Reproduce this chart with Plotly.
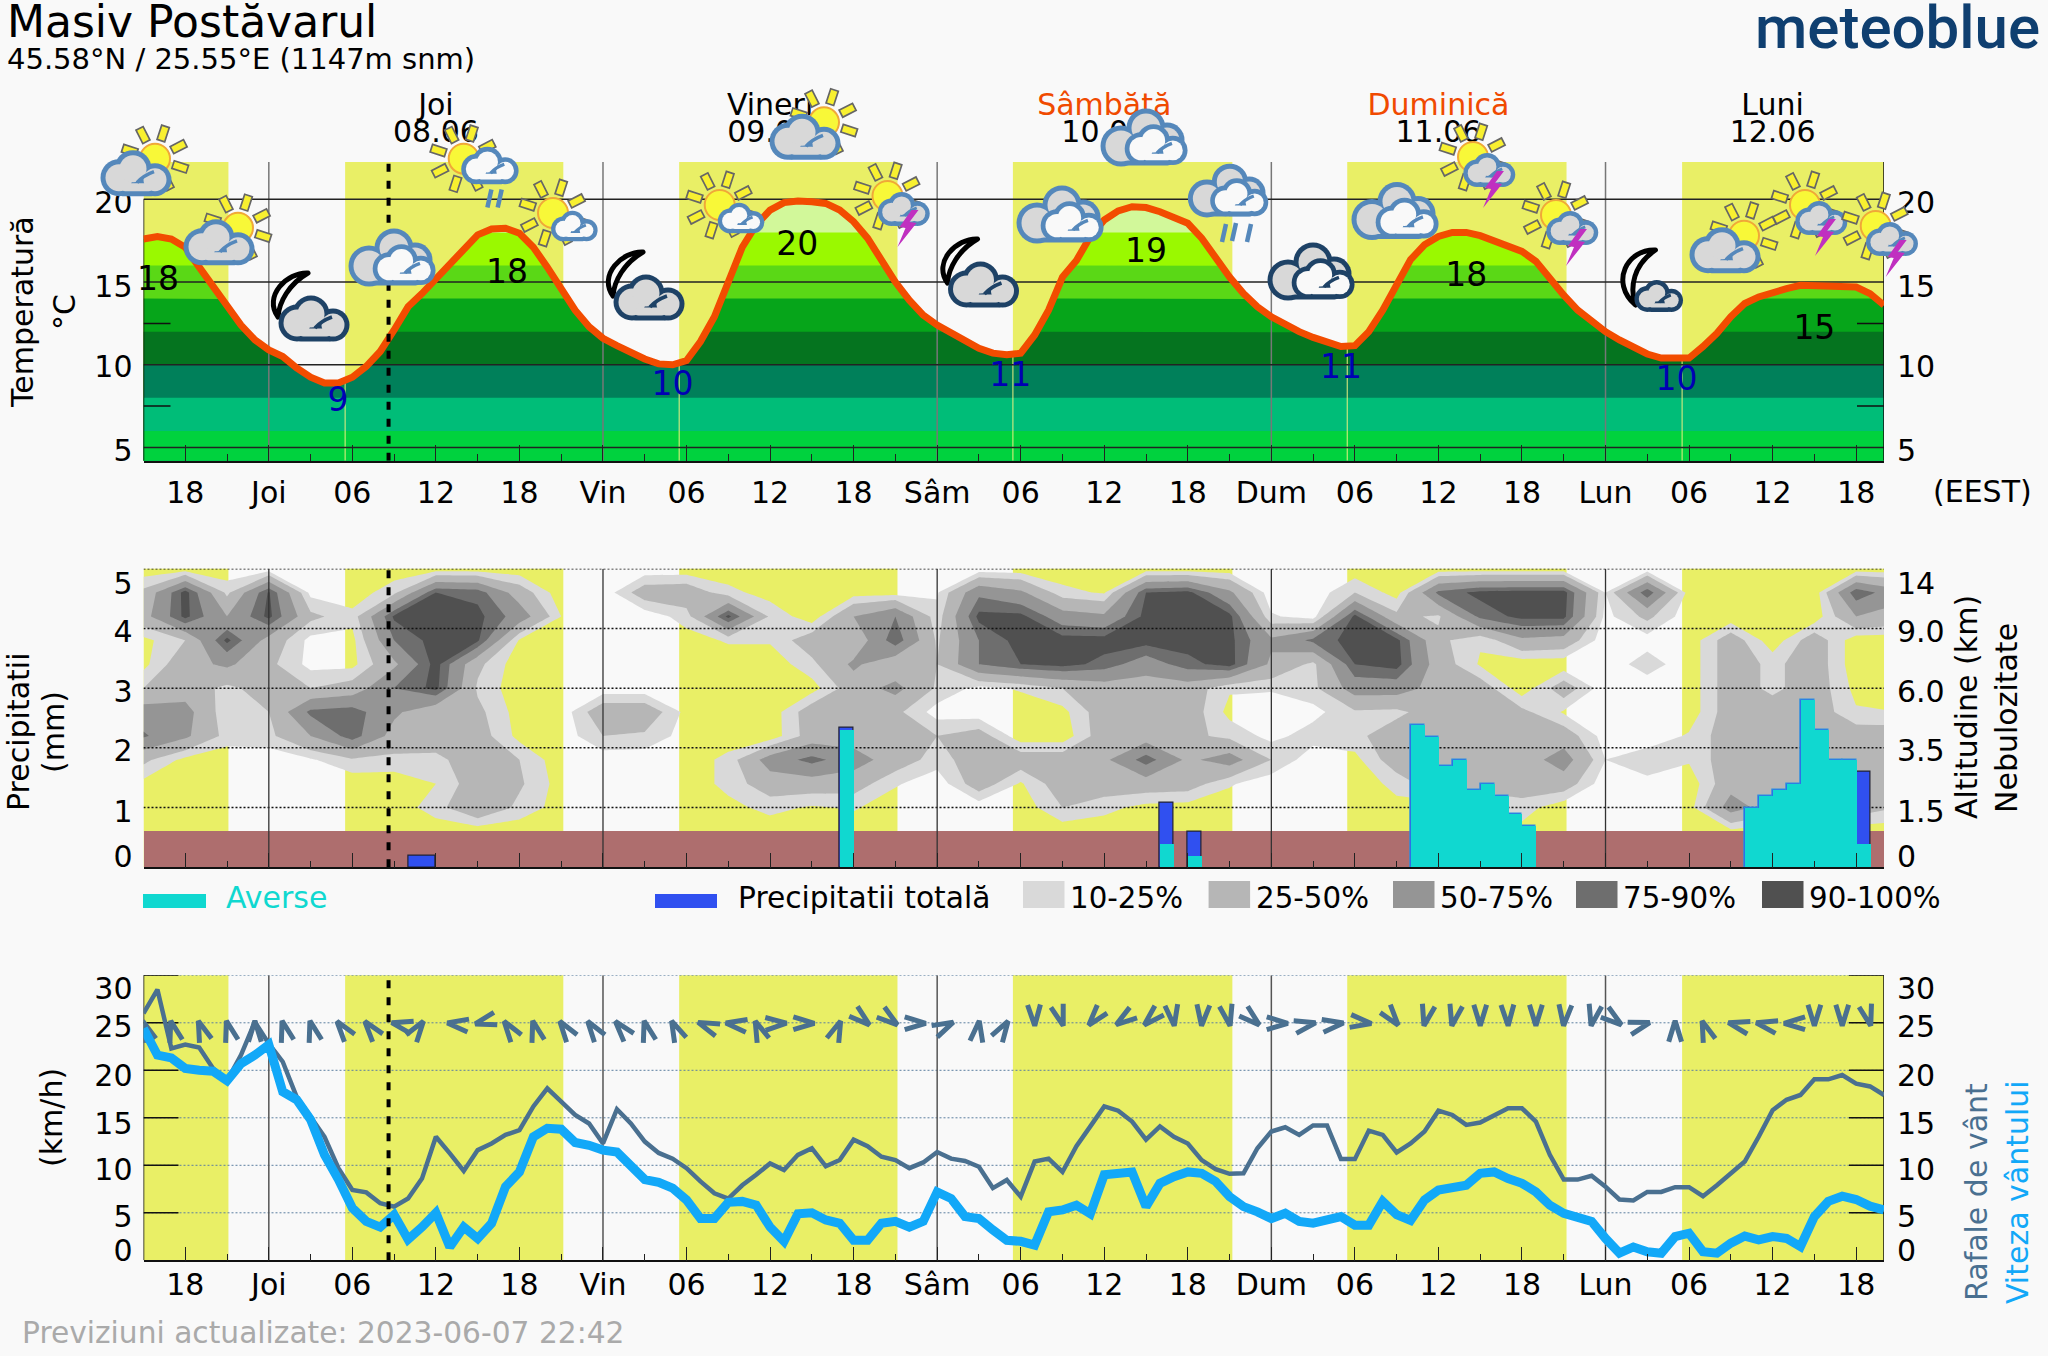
import base64
import numpy as np
import plotly.graph_objects as go

# ---------- data ----------
hours = list(range(-9, 117))   # hours relative to Thursday 00:00 (EEST)
temperature = [17.6,17.75,17.6,17.1,15.9,14.7,13.5,12.4,11.5,10.9,10.5,9.8,9.25,8.9,8.9,9.25,9.9,10.8,12.1,13.5,14.3,
 15.2,16.2,17.1,17.85,18.2,18.25,17.95,17.1,15.9,14.5,13.3,12.3,11.6,11.15,10.7,10.35,10.05,10.0,10.25,11.4,12.9,
 15.1,17.1,18.45,19.35,19.8,19.9,19.85,19.75,19.35,18.65,17.65,16.35,15.0,13.9,13.0,12.4,11.9,11.4,11.0,10.7,10.6,
 10.7,11.8,13.3,15.3,16.3,17.75,18.75,19.3,19.55,19.5,19.25,18.95,18.55,17.65,16.45,15.3,14.3,13.5,12.9,12.4,12.0,
 11.65,11.35,11.1,11.15,12.0,13.3,14.9,16.35,17.25,17.75,18.0,18.0,17.8,17.45,17.15,16.85,16.25,15.2,14.2,13.3,12.6,
 12.0,11.5,11.05,10.65,10.4,10.35,10.4,11.1,11.9,12.9,13.7,14.1,14.4,14.6,14.8,14.8,14.8,14.8,14.7,14.3,13.6]
wind_speed = [24.4,21.6,21.3,20.2,20.0,19.9,18.9,20.7,21.6,22.7,17.75,16.9,14.8,11.1,8.5,5.5,4.1,3.5,4.8,2.2,3.5,5.0,
 1.4,3.5,2.3,3.9,7.75,9.3,13.0,13.9,13.8,12.4,12.1,11.6,11.4,9.9,8.5,8.2,7.6,6.35,4.4,4.4,6.1,6.2,5.8,3.5,2.0,4.9,
 5.0,4.25,3.9,2.1,2.1,3.9,4.1,3.5,4.1,7.2,6.5,4.6,4.4,3.2,2.1,2.0,1.6,5.1,5.3,5.8,4.9,9.0,9.05,9.3,5.65,8.1,8.8,9.3,
 9.15,8.3,6.7,5.65,5.1,4.4,4.95,4.1,3.9,4.25,4.6,3.7,3.7,6.2,4.8,4.2,6.35,7.4,7.6,7.9,9.15,9.3,8.6,8.1,7.2,5.8,4.95,
 4.5,4.1,2.3,0.75,1.4,0.9,0.75,2.5,2.85,0.9,0.75,1.8,2.55,2.15,2.5,2.3,1.45,4.6,6.2,6.75,6.4,5.7,5.3]
wind_gust = [26.0,28.5,22.3,22.7,22.4,20.2,18.9,21.6,25.1,22.8,20.9,17.2,15.1,13.0,9.7,7.4,7.15,6.0,5.65,6.5,8.6,13.0,
 11.25,9.4,11.6,12.3,13.2,13.7,16.2,18.1,16.7,15.3,14.4,12.3,15.9,14.4,12.5,11.3,10.7,9.7,8.3,7.05,6.5,7.9,9.0,10.2,
 9.5,11.1,11.8,9.9,10.55,12.7,12.0,10.9,10.55,9.7,10.3,11.4,10.7,10.45,9.85,7.6,8.45,6.7,10.4,10.7,9.3,12.0,14.1,
 16.2,15.75,14.6,12.7,14.1,13.0,12.3,10.55,9.6,9.1,9.15,11.8,13.55,14.0,13.2,14.2,14.2,10.65,10.65,13.65,13.2,11.35,
 12.3,13.55,15.75,15.3,14.25,14.5,15.3,16.0,16.0,14.6,11.1,8.5,8.5,8.9,7.75,6.4,6.3,7.2,7.2,7.7,7.7,6.75,7.9,9.15,
 10.4,13.0,15.8,16.9,17.4,19.05,19.05,19.5,18.6,18.3,17.4]
# wind direction every 2 h from -9 h: bearing the arrow points at (deg clockwise from up)
wind_dir_hours = list(range(-9, 117, 2))
wind_dir = [340,345,340,345,0,345,345,323,322,283,35,277,255,325,345,325,325,320,345,335,291,278,338,88,90,22,130,127,
 90,64,8,32,178,163,220,235,226,172,185,168,131,90,78,82,97,142,193,192,180,178,180,185,192,127,74,0,340,284,282,270,
 180,180,165]

bar_start = [10,41,64,66,82,83,84,85,86,87,88,89,90,106,107,108,109,110,111,112,113,114]
bar_len = [2,1,1,1,1,1,1,1,1,1,1,1,1,1,1,1,1,1,1,1,1,1]
precip_total = [0.2,2.33,1.09,0.6,2.39,2.19,1.7,1.8,1.3,1.4,1.2,0.9,0.7,1.0,1.2,1.3,1.4,2.8,2.3,1.8,1.8,1.6]
precip_shower = [0,2.3,0.4,0.2,2.39,2.19,1.7,1.8,1.3,1.4,1.2,0.9,0.7,1.0,1.2,1.3,1.4,2.8,2.3,1.8,1.8,0.4]
terrain_top = 0.608

sunrise = [-33, 5.48, 29.47, 53.44, 77.45, 101.5]
sunset = [-2.9, 21.15, 45.15, 69.2, 93.2, 116]
now_hour = 8.6

temp_label_hours = [-7.96, 4.97, 17.1, 29.0, 37.95, 53.25, 63.0, 77.0, 86.0, 101.1, 111.0]
temp_label_values = [15.0, 7.72, 15.45, 8.68, 17.14, 9.22, 16.72, 9.71, 15.27, 8.98, 12.06]
temp_label_text = ["18","9","18","10","20","11","19","11","18","10","15"]
temp_label_color = ["#000","#0000b4","#000","#0000b4","#000","#0000b4","#000","#0000b4","#000","#0000b4","#000"]

day_hours = [12, 36, 60, 84, 108]
day_names = ["Joi", "Vineri", "Sâmbătă", "Duminică", "Luni"]
day_dates = ["08.06", "09.06", "10.06", "11.06", "12.06"]
day_colors = ["#000", "#000", "#f04a00", "#f04a00", "#000"]

x_tick_hours = list(range(-6, 115, 6))
x_tick_text = ["18","Joi","06","12","18","Vin","06","12","18","Sâm","06","12","18","Dum","06","12","18","Lun","06","12","18"]

cloud_hours = list(range(-9, 118, 3))
cloud_levels = [0.6,1.0,1.4,1.8,2.2,2.6,3.0,3.4,3.8,4.2,4.6,5.0]
cloud_u06 = [0]*33+[5,0,0,0,0,5,0,0,0,0]
cloud_u10 = [0,0,0,0,0,0,0,18,45,20,3,0,0,0,5,15,8,12,0,0,0,0,25,15,5,3,0,0,0,0,5,0,5,17,0,0,0,3,62,37,37,37,25]
cloud_u14 = [5,0,0,0,0,0,0,10,37,28,3,0,0,0,15,37,37,35,12,0,37,8,37,37,37,35,12,0,0,0,15,37,37,37,37,0,5,0,40,37,45,37,37]
cloud_u18 = [30,5,0,0,8,22,20,20,37,25,0,0,0,0,15,62,82,62,37,17,37,37,37,45,85,45,62,25,0,5,37,37,37,37,62,10,20,12,37,37,37,37,37]
cloud_u22 = [78,55,18,20,50,85,40,37,35,5,0,25,22,3,0,0,35,37,30,25,35,0,0,37,37,30,20,5,17,20,37,37,37,37,37,3,0,12,37,37,37,37,37]
cloud_u26 = [62,60,12,25,80,85,55,30,30,3,0,40,40,5,0,0,37,37,30,3,0,0,5,37,37,37,5,0,5,22,20,37,37,30,8,0,0,0,37,37,37,12,10]
cloud_u30 = [25,37,20,35,25,35,75,95,22,0,0,0,0,0,0,0,3,37,58,22,5,12,25,37,37,37,12,12,20,62,62,40,37,0,37,0,0,0,37,20,37,5,0]
cloud_u34 = [5,40,55,30,5,5,45,97,30,0,0,0,0,0,0,0,20,55,30,25,75,90,96,85,62,85,97,45,20,90,97,37,8,0,0,0,18,0,37,20,37,0,0]
cloud_u38 = [5,25,95,40,5,5,75,97,93,8,0,0,0,3,12,12,37,30,88,22,75,97,97,97,97,97,95,55,80,97,95,30,12,45,40,0,3,0,37,0,37,0,0]
cloud_u42 = [40,95,50,95,30,15,93,97,95,65,10,0,0,17,95,22,0,50,75,15,95,95,62,55,95,97,95,12,3,95,30,22,80,95,95,5,30,0,0,0,0,50,40]
cloud_u46 = [30,97,20,92,5,0,20,90,85,37,0,0,37,40,15,3,0,3,3,8,70,55,15,8,90,95,55,0,0,25,3,80,95,97,97,10,88,3,0,0,0,88,60]
cloud_u50 = [0]*43
cloud_grid = [cloud_u06,cloud_u10,cloud_u14,cloud_u18,cloud_u22,cloud_u26,cloud_u30,cloud_u34,cloud_u38,cloud_u42,cloud_u46,cloud_u50]
cloud_thresholds = [10,25,50,75,90]
cloud_colors = ["#d9d9d9","#b6b6b6","#959595","#6e6e6e","#505050"]
cloud_legend = ["10-25%","25-50%","50-75%","75-90%","90-100%"]

temp_band_tops = [40,18,16,14,12,10,8,6]
temp_band_colors = ["#d2f89a","#9af900","#5ad816","#06a51a","#05741f","#00805a","#00bd78","#00d23e"]

temp_ticks = [20,15,10,5]
temp_tick_pos = [19.78,14.75,9.9,4.8]
prec_text = ["0","1","2","3","4","5"]
alt_text = ["0","1.5","3.5","6.0","9.0","14"]
prec_tick_pos = [0.18,0.94,1.95,2.95,3.95,4.76]
wind_text = ["0","5","10","15","20","25","30"]
wind_tick_pos = [1.08,4.56,9.6,14.45,19.5,24.56,28.66]

# ---------- geometry ----------
W, H = 2048, 1356
L, R = 143.5, 1884
PXH = (R-L)/125
X0, X1 = -9, 116
T_TOP, T_BOT = 162, 460.7
M_TOP, M_BOT = 568.7, 867.3
B_TOP, B_BOT = 975.3, 1260.3
T_RANGE = [4.2, 22.254]
FONT = "DejaVu Sans"
BG = "#f9f9f9"
INK = "#4a7090"
YELLOW = "#e9ef66"
CYAN = "#10d8d0"
BLUE = "#3050f0"
SKY = "#12a8f8"
RED = "#f24c00"
DASH = "8px,9px"

xp = lambda p: p/W
yp = lambda p: 1-p/H

# ---------- icons ----------
SB = "#5588bb"; SD = "#1e4266"
def disc(c, fill, grow):
    return f'<circle cx="{c[0]}" cy="{c[1]}" r="{c[2]+grow}" fill="{fill}"/>'
def blob(circles, rect, fill, stroke, sw):
    x0,y0,x1,y1 = rect
    o = "".join(disc(c, stroke, sw/2) for c in circles)
    o += f'<rect x="{x0-sw/2}" y="{y0-sw/2}" width="{x1-x0+sw}" height="{y1-y0+sw}" fill="{stroke}" rx="6"/>'
    o += "".join(disc(c, fill, -sw/2) for c in circles)
    o += f'<rect x="{x0+sw/2}" y="{y0+sw/2}" width="{x1-x0-sw}" height="{y1-y0-sw}" fill="{fill}" rx="4"/>'
    return o
def cloud(cx, cy, s, fill, stroke):
    sw = 3.0+2.0*s
    cs = [(cx-18*s,cy+3*s,16*s),(cx-4*s,cy-6*s,16*s),(cx+18*s,cy+5*s,14*s)]
    o = blob(cs, (cx-18*s,cy+6*s,cx+18*s,cy+19*s), fill, stroke, sw)
    o += f'<path d="M {cx+0*s} {cy+8*s} Q {cx+6*s} {cy+1*s} {cx+17*s} {cy-3*s}" fill="none" stroke="{stroke}" stroke-width="{sw*0.7}"/>'
    return o
def sun(cx, cy, r=15):
    o = ""
    for a in [-72,-27,18,63,108,153,198,243]:
        o += f'<rect x="-4" y="{-r-19}" width="8" height="15" fill="#f8f030" stroke="#666" stroke-width="1.7" transform="translate({cx} {cy}) rotate({a})"/>'
    o += f'<circle cx="{cx}" cy="{cy}" r="{r}" fill="#f8f838" stroke="#f0a838" stroke-width="2"/>'
    return o
def moon(t1, o1, o2, t2, i1, i2):
    d = f'M {t1[0]} {t1[1]} C {o1[0]} {o1[1]} {o2[0]} {o2[1]} {t2[0]} {t2[1]} C {i1[0]} {i1[1]} {i2[0]} {i2[1]} {t1[0]} {t1[1]} Z'
    return f'<path d="{d}" fill="{BG}" stroke="#000" stroke-width="5" stroke-linejoin="round"/>'
def triple(stroke, s=1.0):
    cs = [(-24*s,7*s,18*s),(1*s,-11*s,17*s),(22*s,1*s,15*s)]
    o = blob(cs, (-24*s,8*s,26*s,24*s), "#d8d8d8", stroke, 5)
    return o+cloud(12*s,7*s,0.88*s,BG,stroke)
def rain(points):
    return "".join(f'<line x1="{x+2}" y1="{y-9}" x2="{x-2}" y2="{y+9}" stroke="{SB}" stroke-width="4.5"/>' for x,y in points)
def bolt():
    return '<path d="M 7 0 L -5 17 L 1 18 L -7 37 L 12 13 L 5 12 L 14 0 Z" fill="#c030c0"/>'
ICONS = {
 "sun_cloud": sun(18,-16)+cloud(0,0,1,"#d8d8d8",SB),
 "sun_white_rain": rain([(-1.3,31.7),(9,31.7)])+sun(-27,-8)+cloud(0,0,0.8,BG,SB),
 "sun_small": sun(-22,-14)+cloud(0,0,0.64,BG,SB),
 "moon_cloud": moon((-7,-47),(-28,-48),(-52,-24),(-37,-3),(-36,-18),(-26,-36))+cloud(0,0,1,"#d8d8d8",SD),
 "moon_small": moon((-4,-47),(-32,-48),(-50,-15),(-24,8),(-30,-10),(-26,-32))+cloud(0,0,0.67,"#d8d8d8",SD),
 "triple": triple(SB),
 "triple_dark": triple(SD),
 "triple_rain": rain([(-5,41),(5,40),(20,41)])+triple(SB,0.92),
 "sun_storm": sun(-17,-14)+cloud(0,0,0.72,"#d8d8d8",SB)+bolt(),
}
def icon_uri(k):
    svg = f'<svg xmlns="http://www.w3.org/2000/svg" width="170" height="170" viewBox="-85 -85 170 170">{ICONS[k]}</svg>'
    return "data:image/svg+xml;base64,"+base64.b64encode(svg.encode()).decode()
icon_kinds = ["sun_cloud","sun_cloud","moon_cloud","triple","sun_white_rain","sun_small","moon_cloud","sun_small","sun_cloud",
 "sun_storm","moon_cloud","triple","triple","triple_rain","triple_dark","triple","sun_storm","sun_storm","moon_small","sun_cloud","sun_storm","sun_storm"]
icon_px = [137,220,315,393,490.7,575,650,741.7,806,904.5,984.5,1061,1145,1229,1312,1396,1490,1573,1659.4,1726,1822,1892.7]
icon_py = [174.7,243.8,320,259,166.7,227,299,219,138.3,210,286,216,139,192,273,212.5,171,229,297,251.7,219,240]

# ---------- figure ----------
fig = go.Figure()
def seg(segments):
    xs, ys = [], []
    for s in segments:
        xs += [s[0], s[2], None]; ys += [s[1], s[3], None]
    return xs, ys
def line(xa, ya, segments, color, width, dash=None, clip=False):
    xs, ys = seg(segments)
    fig.add_trace(go.Scatter(x=xs, y=ys, xaxis=xa, yaxis=ya, mode="lines", line=dict(color=color, width=width, dash=dash),
                             hoverinfo="skip", showlegend=False, cliponaxis=clip))
def dummy(xa, ya):
    fig.add_trace(go.Scatter(x=[X0], y=[1], xaxis=xa, yaxis=ya, mode="markers", marker=dict(opacity=0), hoverinfo="skip", showlegend=False))

midnights = [0,24,48,72,96]

# --- temperature panel ---
fine_x = np.arange(X0, X1+0.001, 0.1)
fine_t = np.interp(fine_x, hours, temperature)
for top, col in zip(temp_band_tops, temp_band_colors):
    fig.add_trace(go.Scatter(x=fine_x, y=np.minimum(fine_t, top), xaxis="x", yaxis="y", mode="lines", line=dict(width=0),
                             fill="tozeroy", fillcolor=col, hoverinfo="skip", showlegend=False))
for sr in sunrise[1:]:
    line("x","y",[(sr,T_RANGE[0],sr,float(np.interp(sr,hours,temperature)))],"#eef080",1)
line("x","y",[(m,T_RANGE[0],m,T_RANGE[1]) for m in midnights],"#777",1.5)
line("x","y",[(X0,v,X1,v) for v in temp_ticks],"#222",1.5)
short = 27/PXH
line("x","y",[(X0,v,X0+short,v) for v in (12.5,7.5)]+[(X1-short,v,X1,v) for v in (12.5,7.5)],"#111",1.5)
line("x","y",[(X0,T_RANGE[0],X0,20),(X1,T_RANGE[0],X1,T_RANGE[1])],"#111",1.5)
fig.add_trace(go.Scatter(x=hours, y=temperature, xaxis="x", yaxis="y", mode="lines", line=dict(color=RED, width=7),
                         hoverinfo="skip", showlegend=False))
line("x","y",[(now_hour,T_RANGE[0],now_hour,T_RANGE[1])],"#000",4,dash=DASH)
for i in range(len(temp_label_hours)):
    fig.add_trace(go.Scatter(x=[temp_label_hours[i]], y=[temp_label_values[i]], xaxis="x", yaxis="y", mode="text",
                             text=[temp_label_text[i]], textposition="middle center",
                             textfont=dict(family=FONT, size=33, color=temp_label_color[i]), hoverinfo="skip", showlegend=False, cliponaxis=False))
px_per_t = (T_BOT-T_TOP)/(T_RANGE[1]-T_RANGE[0])
HEAD_TOP = 85
head_range = [T_RANGE[0], T_RANGE[1]+(T_TOP-HEAD_TOP)/px_per_t]
for i in range(5):
    for txt, py in ((day_names[i],107.5),(day_dates[i],134.5)):
        fig.add_trace(go.Scatter(x=[day_hours[i]], y=[T_RANGE[1]+(T_TOP-py)/px_per_t], xaxis="x", yaxis="y7", mode="text", text=[txt],
                                 textposition="middle center",
                                 textfont=dict(family=FONT, size=30, color=day_colors[i] if txt==day_names[i] else "#000"),
                                 hoverinfo="skip", showlegend=False))
dummy("x","y2")

# --- cloud / precipitation panel ---
for thr, col in zip(cloud_thresholds, cloud_colors):
    fig.add_trace(go.Contour(x=cloud_hours, y=cloud_levels, z=cloud_grid, xaxis="x2", yaxis="y3",
                             contours=dict(type="constraint", operation="<=", value=thr),
                             fillcolor=col, line=dict(width=0, smoothing=0), showscale=False, hoverinfo="skip", showlegend=False))
line("x2","y3",[(X0,v,X1,v) for v in (1,2,3,4,5)],"#111",1.5,dash="2px,2px")
fig.add_trace(go.Bar(x=[(X0+X1)/2], y=[terrain_top], width=[X1-X0], xaxis="x2", yaxis="y4", marker=dict(color="#ae6e6e", line=dict(width=0)),
                     hoverinfo="skip", showlegend=False))
bar_mid = [s+n/2 for s, n in zip(bar_start, bar_len)]
edge = ["#223" if t > s+0.01 else "#2a90e0" for t, s in zip(precip_total, precip_shower)]
fig.add_trace(go.Bar(x=bar_mid, y=precip_total, width=bar_len, xaxis="x2", yaxis="y4", marker=dict(color=BLUE, line=dict(width=1.2,color=edge)),
                     hoverinfo="skip", showlegend=False))
fig.add_trace(go.Bar(x=bar_mid, y=precip_shower, width=bar_len, xaxis="x2", yaxis="y4", marker=dict(color=CYAN, line=dict(width=0)),
                     hoverinfo="skip", showlegend=False))
line("x2","y4",[(m,0,m,5) for m in midnights],"#333",1.3)
line("x2","y4",[(now_hour,0,now_hour,5)],"#000",4,dash=DASH)

# --- wind panel ---
line("x3","y5",[(X0,v,X1,v) for v in (5,10,15,20,25,30)],"#5c7fa0",1,dash="2px,2px")
tick35 = 35/PXH
line("x3","y5",[(X0,v,X0+tick35,v) for v in (5,10,15,20,25,30)]+[(X1-tick35,v,X1,v) for v in (5,10,15,20,25,30)],"#111",1.5)
line("x3","y5",[(X0,0,X0,30),(X1,0,X1,30)],"#111",1.5)
line("x3","y5",[(m,0,m,30) for m in midnights],"#555",1.5)
PXW = (B_BOT-B_TOP)/30
ax, ay = [], []
for h, d in zip(wind_dir_hours, wind_dir):
    a = np.radians(d)
    tipx, tipy = 2.5*np.sin(a), 2.5*np.cos(a)
    l = np.radians(d+180-17); r = np.radians(d+180+17)
    ln = 22
    ax += [h+(tipx+ln*np.sin(l))/PXH, h+tipx/PXH, h+(tipx+ln*np.sin(r))/PXH, None]
    ay += [24.95+(tipy+ln*np.cos(l))/PXW, 24.95+tipy/PXW, 24.95+(tipy+ln*np.cos(r))/PXW, None]
fig.add_trace(go.Scatter(x=ax, y=ay, xaxis="x3", yaxis="y5", mode="lines", line=dict(color=INK, width=5), hoverinfo="skip", showlegend=False))
fig.add_trace(go.Scatter(x=hours, y=wind_gust, xaxis="x3", yaxis="y5", mode="lines", line=dict(color=INK, width=4.5), hoverinfo="skip", showlegend=False))
fig.add_trace(go.Scatter(x=hours, y=wind_speed, xaxis="x3", yaxis="y5", mode="lines", line=dict(color=SKY, width=9), hoverinfo="skip", showlegend=False))
line("x3","y5",[(now_hour,0,now_hour,30)],"#000",4,dash=DASH)
dummy("x3","y6")

# --- yellow day bands ---
shapes = []
for a, b in zip(sunrise, sunset):
    a = max(a, X0)
    for xr, yr in (("x","y domain"),("x2","y3 domain"),("x3","y5 domain")):
        shapes.append(dict(type="rect", xref=xr, yref=yr, x0=a, x1=b, y0=0, y1=1, fillcolor=YELLOW, line=dict(width=0), layer="below"))

# --- legend ---
def pbox(x0,x1,y0,y1,c):
    shapes.append(dict(type="rect", xref="paper", yref="paper", x0=xp(x0), x1=xp(x1), y0=yp(y1), y1=yp(y0), fillcolor=c, line=dict(width=0)))
pbox(143,206,894,908,CYAN)
pbox(655,717,894,908,BLUE)
legend_box_x = [1023,1208.6,1393,1576,1762]
for x0, c in zip(legend_box_x, cloud_colors):
    pbox(x0, x0+41.5, 881, 908, c)

ann = []
def text(px, py, s, size=30, color="#000", anchor="center", angle=0, family=FONT, weight=None):
    ann.append(dict(xref="paper", yref="paper", x=xp(px), y=yp(py), text=s, showarrow=False, xanchor=anchor, yanchor="middle",
                    textangle=angle, font=dict(family=family, size=size, color=color, weight=weight), borderpad=0))
text(6, 22, "Masiv Postăvarul", size=44, anchor="left")
text(6, 59, "45.58°N / 25.55°E (1147m snm)", size=29, anchor="left")
text(2041, 28, "meteoblue", size=60, color="#0f3f70", anchor="right", family="Roboto", weight=500)
text(22, 312, "Temperatură", angle=-90)
text(64, 312, "°C", angle=-90)
text(19, 732, "Precipitatii", angle=-90)
text(54, 732, "(mm)", angle=-90)
text(51, 1118, "(km/h)", angle=-90)
text(1966, 707, "Altitudine (km)", angle=-90)
text(2006, 718, "Nebulozitate", angle=-90)
text(1976, 1192, "Rafale de vânt", color=INK, angle=-90)
text(2017, 1192, "Viteza vântului", color=SKY, angle=-90)
text(1982, 491, "(EEST)")
text(225, 898, "Averse", color=CYAN, anchor="left")
text(737, 898, "Precipitatii totală", size=29.7, anchor="left")
for x0, s in zip(legend_box_x, cloud_legend):
    text(x0+46, 898, s, size=29.3, anchor="left")
text(21, 1332, "Previziuni actualizate: 2023-06-07 22:42", size=29.7, color="#aaaaaa", anchor="left")

images = [dict(source=icon_uri(k), xref="paper", yref="paper", x=xp(px), y=yp(py), sizex=170/W, sizey=170/H,
               xanchor="center", yanchor="middle", sizing="stretch", layer="above")
          for k, px, py in zip(icon_kinds, icon_px, icon_py)]

minor_hours = [h for h in range(-9, 117, 3) if h % 6 != 0]
tf = dict(family=FONT, size=30, color="#000")
def xaxis(anchor, labels, major, minor, standoff=0):
    d = dict(domain=[xp(L), xp(R)], range=[X0, X1], anchor=anchor, showgrid=False, zeroline=False, showline=True, linecolor="#111", linewidth=1.5,
             tickmode="array", tickvals=x_tick_hours, ticks="inside", ticklen=major, tickwidth=1, tickcolor="#222",
             minor=dict(tickmode="array", tickvals=minor_hours, ticks="inside", ticklen=minor, tickwidth=1, tickcolor="#222"),
             tickfont=tf, showticklabels=labels, fixedrange=True)
    if labels:
        d.update(ticktext=x_tick_text, ticklabelstandoff=standoff)
    return d
def yaxis(top, bot, rng, pos, txt, side="left", overlay=None, xanchor="x"):
    d = dict(domain=[yp(bot), yp(top)], range=rng, anchor=xanchor, side=side, showgrid=False, zeroline=False, showline=False,
             tickmode="array", tickvals=pos, ticktext=txt, ticks="", tickfont=tf, ticklabelstandoff=10 if side=="left" else 12, fixedrange=True)
    if overlay: d["overlaying"] = overlay
    return d

fig.update_layout(
    width=W, height=H, margin=dict(l=0, r=0, t=0, b=0, pad=0, autoexpand=False), paper_bgcolor=BG, plot_bgcolor="rgba(0,0,0,0)", showlegend=False,
    barmode="overlay", bargap=0,
    xaxis=xaxis("y", True, 16, 7, 5), xaxis2=xaxis("y3", False, 15, 7), xaxis3=xaxis("y5", True, 14, 7, -3),
    yaxis=yaxis(T_TOP, T_BOT, T_RANGE, temp_tick_pos, [str(v) for v in temp_ticks], xanchor="x"),
    yaxis2=yaxis(T_TOP, T_BOT, T_RANGE, temp_tick_pos, [str(v) for v in temp_ticks], side="right", overlay="y", xanchor="x"),
    yaxis3=yaxis(M_TOP, M_BOT, [0,5], prec_tick_pos, prec_text, xanchor="x2"),
    yaxis4=yaxis(M_TOP, M_BOT, [0,5], prec_tick_pos, alt_text, side="right", overlay="y3", xanchor="x2"),
    yaxis5=yaxis(B_TOP, B_BOT, [0,30], wind_tick_pos, wind_text, xanchor="x3"),
    yaxis6=yaxis(B_TOP, B_BOT, [0,30], wind_tick_pos, wind_text, side="right", overlay="y5", xanchor="x3"),
    yaxis7=dict(domain=[yp(T_BOT), yp(HEAD_TOP)], range=head_range, anchor="x", visible=False, fixedrange=True),
    shapes=shapes, annotations=ann, images=images, font=dict(family=FONT),
)
fig.write_html("out.html", config=dict(displayModeBar=False),
               post_script="document.body.style.margin='0';document.body.style.background='#f9f9f9';document.body.style.overflow='hidden';")
